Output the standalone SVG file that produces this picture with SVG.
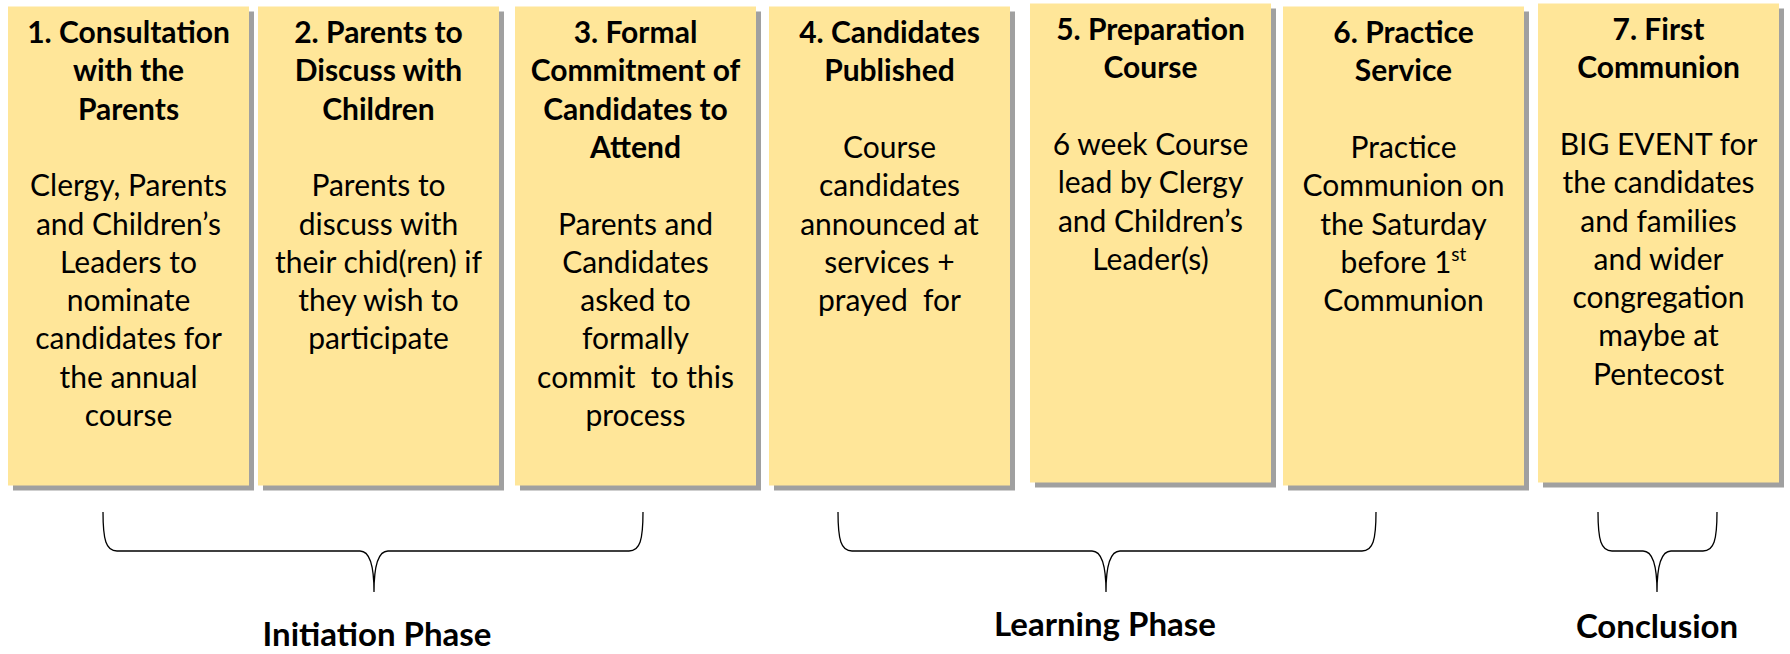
<svg xmlns="http://www.w3.org/2000/svg" width="1790" height="654" viewBox="0 0 1790 654">
<style>
.shadow{fill:#A0A0A0}
.box{fill:#FFE699}
.t{font-family:Lato,"Liberation Sans",sans-serif;font-size:30px;font-weight:bold;text-anchor:middle;fill:#000}
.b{font-family:Lato,"Liberation Sans",sans-serif;font-size:30px;font-weight:normal;text-anchor:middle;fill:#000}
.lbl{font-family:Lato,"Liberation Sans",sans-serif;font-size:33px;font-weight:bold;text-anchor:middle;fill:#000}
.brace{fill:none;stroke:#000;stroke-width:1.3}
</style>
<rect width="1790" height="654" fill="#fff"/>
<g id="node1">
<rect class="shadow" x="13" y="11.5" width="241" height="479"/>
<rect class="box" x="8" y="6.5" width="241" height="479"/>
<text class="t"><tspan x="128.5" y="43">1. Consultation</tspan><tspan x="128.5" y="81.3">with the</tspan><tspan x="128.5" y="119.6">Parents</tspan></text>
<text class="b"><tspan x="128.5" y="196.2">Clergy, Parents</tspan><tspan x="128.5" y="234.5">and Children’s</tspan><tspan x="128.5" y="272.8">Leaders to</tspan><tspan x="128.5" y="311.1">nominate</tspan><tspan x="128.5" y="349.4">candidates for</tspan><tspan x="128.5" y="387.7">the annual</tspan><tspan x="128.5" y="426">course</tspan></text>
</g>
<g id="node2">
<rect class="shadow" x="263" y="11.5" width="241" height="479"/>
<rect class="box" x="258" y="6.5" width="241" height="479"/>
<text class="t"><tspan x="378.5" y="43">2. Parents to</tspan><tspan x="378.5" y="81.3">Discuss with</tspan><tspan x="378.5" y="119.6">Children</tspan></text>
<text class="b"><tspan x="378.5" y="196.2">Parents to</tspan><tspan x="378.5" y="234.5">discuss with</tspan><tspan x="378.5" y="272.8">their chid(ren) if</tspan><tspan x="378.5" y="311.1">they wish to</tspan><tspan x="378.5" y="349.4">participate</tspan></text>
</g>
<g id="node3">
<rect class="shadow" x="520" y="11.5" width="241" height="479"/>
<rect class="box" x="515" y="6.5" width="241" height="479"/>
<text class="t"><tspan x="635.5" y="43">3. Formal</tspan><tspan x="635.5" y="81.3">Commitment of</tspan><tspan x="635.5" y="119.6">Candidates to</tspan><tspan x="635.5" y="157.9">Attend</tspan></text>
<text class="b" xml:space="preserve"><tspan x="635.5" y="234.5">Parents and</tspan><tspan x="635.5" y="272.8">Candidates</tspan><tspan x="635.5" y="311.1">asked to</tspan><tspan x="635.5" y="349.4">formally</tspan><tspan x="635.5" y="387.7">commit  to this</tspan><tspan x="635.5" y="426">process</tspan></text>
</g>
<g id="node4">
<rect class="shadow" x="774" y="11.5" width="241" height="479"/>
<rect class="box" x="769" y="6.5" width="241" height="479"/>
<text class="t"><tspan x="889.5" y="43">4. Candidates</tspan><tspan x="889.5" y="81.3">Published</tspan></text>
<text class="b" xml:space="preserve"><tspan x="889.5" y="157.9">Course</tspan><tspan x="889.5" y="196.2">candidates</tspan><tspan x="889.5" y="234.5">announced at</tspan><tspan x="889.5" y="272.8">services +</tspan><tspan x="889.5" y="311.1">prayed  for</tspan></text>
</g>
<g id="node5">
<rect class="shadow" x="1035" y="8.5" width="241" height="479"/>
<rect class="box" x="1030" y="3.5" width="241" height="479"/>
<text class="t"><tspan x="1150.5" y="40">5. Preparation</tspan><tspan x="1150.5" y="78.3">Course</tspan></text>
<text class="b"><tspan x="1150.5" y="154.9">6 week Course</tspan><tspan x="1150.5" y="193.2">lead by Clergy</tspan><tspan x="1150.5" y="231.5">and Children’s</tspan><tspan x="1150.5" y="269.8">Leader(s)</tspan></text>
</g>
<g id="node6">
<rect class="shadow" x="1288" y="11.5" width="241" height="479"/>
<rect class="box" x="1283" y="6.5" width="241" height="479"/>
<text class="t"><tspan x="1403.5" y="43">6. Practice</tspan><tspan x="1403.5" y="81.3">Service</tspan></text>
<text class="b"><tspan x="1403.5" y="157.9">Practice</tspan><tspan x="1403.5" y="196.2">Communion on</tspan><tspan x="1403.5" y="234.5">the Saturday</tspan><tspan x="1403.5" y="272.8">before 1<tspan dy="-12" font-size="19">st</tspan></tspan><tspan x="1403.5" y="311.1">Communion</tspan></text>
</g>
<g id="node7">
<rect class="shadow" x="1543" y="8.5" width="241" height="479"/>
<rect class="box" x="1538" y="3.5" width="241" height="479"/>
<text class="t"><tspan x="1658.5" y="40">7. First</tspan><tspan x="1658.5" y="78.3">Communion</tspan></text>
<text class="b"><tspan x="1658.5" y="154.9">BIG EVENT for</tspan><tspan x="1658.5" y="193.2">the candidates</tspan><tspan x="1658.5" y="231.5">and families</tspan><tspan x="1658.5" y="269.8">and wider</tspan><tspan x="1658.5" y="308.1">congregation</tspan><tspan x="1658.5" y="346.4">maybe at</tspan><tspan x="1658.5" y="384.7">Pentecost</tspan></text>
</g>
<g id="connectors">
<path class="brace" d="M103,512 C103,540 106,551 117,551 L360,551 C370,551 374,565 374,592 C374,565 378,551 388,551 L629,551 C640,551 643,540 643,512"/>
<path class="brace" d="M838,512 C838,540 841,551 852,551 L1092,551 C1102,551 1106,565 1106,592 C1106,565 1110,551 1120,551 L1362,551 C1373,551 1376,540 1376,512"/>
<path class="brace" d="M1598,512 C1598,540 1601,551 1612,551 L1643,551 C1653,551 1657,565 1657,592 C1657,565 1661,551 1671,551 L1703,551 C1714,551 1717,540 1717,512"/>
</g>
<g id="labels">
<text class="lbl" x="377" y="646">Initiation Phase</text>
<text class="lbl" x="1105" y="636">Learning Phase</text>
<text class="lbl" x="1657" y="638">Conclusion</text>
</g>
</svg>
